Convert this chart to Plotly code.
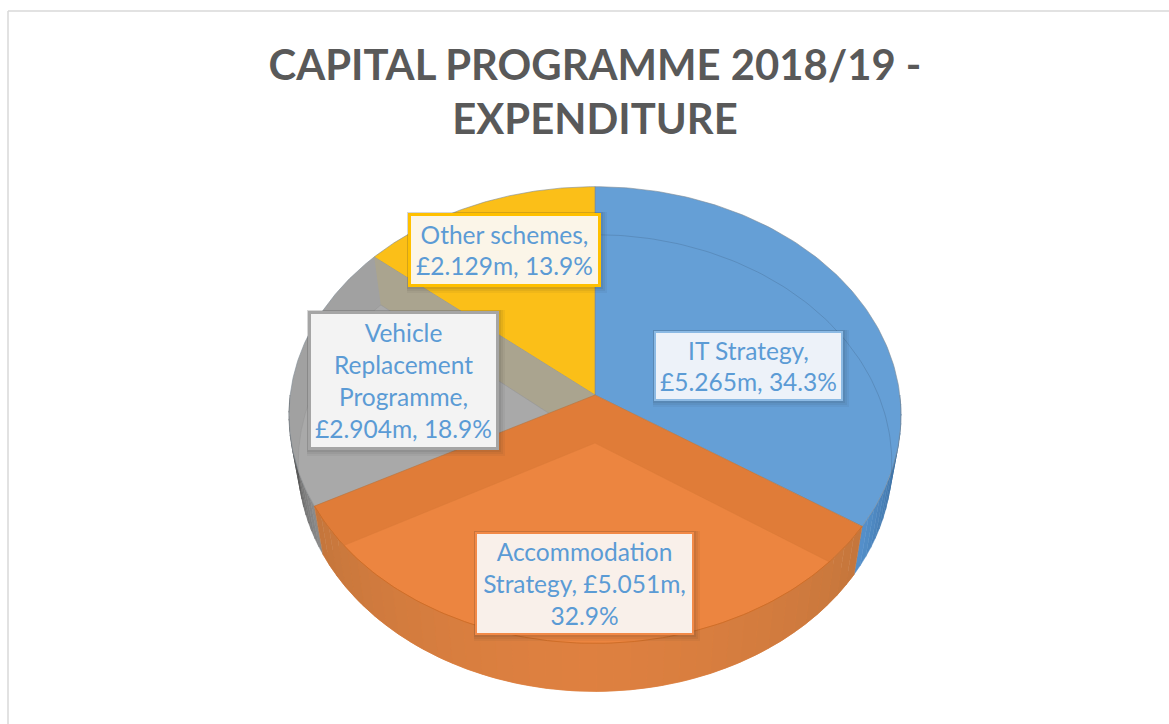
import numpy as np
import plotly.graph_objects as go

# ---- data ----
categories = ["IT Strategy", "Accommodation Strategy", "Vehicle Replacement Programme", "Other schemes"]
values_m = [5.265, 5.051, 2.904, 2.129]
percent = [34.3, 32.9, 18.9, 13.9]
label_lines = [
    ["IT Strategy,"],
    ["Accommodation", "Strategy,"],
    ["Vehicle", "Replacement", "Programme,"],
    ["Other schemes,"],
]
title_text = "CAPITAL PROGRAMME 2018/19 -<br>EXPENDITURE"

# ---- styling ----
top_col = ["#659FD6", "#E07C38", "#A1A1A1", "#FBBF18"]
floor_col = ["#659FD6", "#EC8540", "#A9A9A9", "#FBBF18"]
border_col = ["#8CBAE4", "#F28A48", "#A5A5A5", "#FFC000"]
box_fill = ["#EDF2F9", "#F9F0EA", "#F3F3F3", "#FBF5E8"]
text_col = "#5B9BD5"

CX, CY, DEPTH = 595.0, 395.0, 48.0
A, B, P, FLOOR_X = 226.6, 304.8, 0.0877, 0.97
# label boxes: left, right, top, bottom
boxes = [(654, 843, 331, 401), (475, 694, 532, 635), (308, 499, 311, 450), (408, 601, 213, 287)]


def proj(theta, floor=False):
    u, v = np.sin(theta), np.cos(theta)
    s = 1 / (1 + P * v)
    k = FLOOR_X if floor else 1.0
    return CX + k * B * u * s, CY + (DEPTH if floor else 0) - A * v * s


def clip_to_face(x, y):
    """Pull points lying outside the top face back onto its rim."""
    n_, m_ = (x - CX) / B, -(y - CY) / A
    v = m_ / (1 - P * m_)
    u = n_ * (1 + P * v)
    r = np.maximum(np.hypot(u, v), 1.0)
    u, v = u / r, v / r
    s = 1 / (1 + P * v)
    return CX + B * u * s, CY - A * v * s


def sector(a0, a1, floor=False):
    t = np.linspace(a0, a1, 120)
    x, y = proj(t, floor)
    cy = CY + (DEPTH if floor else 0)
    return np.r_[CX, x, CX], np.r_[cy, y, cy]


def wall(a0, a1):
    t = np.linspace(a0, a1, 12)
    x0, y0 = proj(t)
    x1, y1 = proj(t[::-1], True)
    return np.r_[x0, x1, x0[0]], np.r_[y0, y1, y0[0]]


def poly(x, y, fill, line=None, width=0.0, name=None):
    return go.Scatter(x=x, y=y, mode="lines", fill="toself", fillcolor=fill,
                      line=dict(color=line or fill, width=width), hoverinfo="skip", showlegend=False,
                      name=name)


def mix(c0, c1, f):
    a = [int(c0[i:i + 2], 16) for i in (1, 3, 5)]
    b = [int(c1[i:i + 2], 16) for i in (1, 3, 5)]
    return "rgb(%d,%d,%d)" % tuple(round(p + (q - p) * f) for p, q in zip(a, b))


def add_wall(a0, a1, c0, c1, n=14):
    steps = np.linspace(a0, a1, n + 1)
    for i in range(n):
        x, y = wall(steps[i], steps[i + 1])
        fig.add_trace(poly(x, y, mix(c0, c1, (i + 0.5) / n), width=0.5))


total = sum(values_m)
edges = 2 * np.pi * np.r_[0, np.cumsum(values_m)] / total
fig = go.Figure()

# side walls at the silhouette, behind the top faces
add_wall(np.pi / 2, edges[1], "#2F5E8C", "#5591CC")
add_wall(edges[2], 1.5 * np.pi, "#8E8E8E", "#3E3E3E")

# top faces of blue, grey and yellow
for i in (0, 2, 3):
    x, y = sector(edges[i], edges[i + 1])
    fig.add_trace(poly(x, y, top_col[i], "#7F8C96", 0.6, categories[i]))

# see-through bits: yellow inner wall and lighter grey floor inside the grey slice
xe, ye = proj(edges[3])
xf, yf = proj(edges[3], True)
fig.add_trace(poly([CX, xe, xf, CX, CX], [CY, ye, yf, CY + DEPTH, CY], "#AAA48F"))
x, y = sector(edges[2], edges[3], True)
x, y = clip_to_face(x, y)
fig.add_trace(poly(x, y, floor_col[2], "#979797", 0.6))

# faint far rim of the floor, seen through the blue slice
t = np.linspace(0, 1.72, 80)
x, y = proj(t, True)
fig.add_trace(go.Scatter(x=x, y=y, mode="lines", line=dict(color="rgba(70,110,150,0.55)", width=0.7),
                         hoverinfo="skip", showlegend=False))

# orange slice: top face, floor, front wall
x, y = sector(edges[1], edges[2])
fig.add_trace(poly(x, y, top_col[1], "#B5733F", 0.6, categories[1]))
x, y = sector(edges[1], edges[2], True)
fig.add_trace(poly(x, y, floor_col[1], "#D97A38", 0.5))
n = 40
steps = np.linspace(edges[1], edges[2], n + 1)
for i in range(n):
    f = abs((i + 0.5) / n - 0.5) * 2
    x, y = wall(steps[i], steps[i + 1])
    fig.add_trace(poly(x, y, mix("#DE8040", "#C4763C", f ** 1.5), width=0.5))
x, y = proj(np.linspace(edges[1], edges[2], 120))
fig.add_trace(go.Scatter(x=x, y=y, mode="lines", line=dict(color="#D06E28", width=1),
                         hoverinfo="skip", showlegend=False))

# frame of the chart area
shapes = [
    dict(type="line", x0=8, x1=1169, y0=11, y1=11, line=dict(color="#D9D9D9", width=1.5), layer="above"),
    dict(type="line", x0=8, x1=8, y0=11, y1=724, line=dict(color="#D9D9D9", width=1.5), layer="above"),
]

annotations = []
for i, (l, r, t, b) in enumerate(boxes):
    for off, alpha in ((6, 0.05), (4, 0.06), (2, 0.08)):
        shapes.append(dict(type="rect", x0=l - 1, x1=r + off, y0=t - 1, y1=b + off, layer="above",
                           fillcolor="rgba(40,40,40,%.2f)" % alpha, line=dict(width=0)))
    lines = list(label_lines[i])
    tail = "£%.3fm, %.1f%%" % (values_m[i], percent[i])
    if i == 1:
        lines = ["Accommodation", "Strategy, £%.3fm," % values_m[i], "%.1f%%" % percent[i]]
    else:
        lines.append(tail)
    bw = 3 if i >= 2 else 2
    annotations.append(dict(
        x=(l + r) / 2, y=(t + b) / 2, xref="x", yref="y", xanchor="center", yanchor="middle",
        text="<br>".join(lines), showarrow=False, align="center", valign="middle",
        width=r - l - 2 * bw, height=b - t - 2 * bw, borderpad=0, borderwidth=bw,
        bordercolor=border_col[i], bgcolor=box_fill[i],
        font=dict(family="Lato, Carlito, sans-serif", size=24.5, color=text_col)))

fig.update_layout(
    width=1169, height=724, margin=dict(l=0, r=0, t=0, b=0),
    paper_bgcolor="white", plot_bgcolor="white", showlegend=False,
    title=dict(text=title_text, x=595 / 1169, y=0.890, xanchor="center", yanchor="top",
               font=dict(family="Lato, Carlito, sans-serif", size=41.8, color="#595959", weight="bold")),
    xaxis=dict(range=[0, 1169], visible=False, fixedrange=True),
    yaxis=dict(range=[724, 0], visible=False, fixedrange=True),
    shapes=shapes, annotations=annotations,
)

fig.write_html("out.html", post_script="document.body.style.margin='0';document.body.style.overflow='hidden';",
               config={"displayModeBar": False})
